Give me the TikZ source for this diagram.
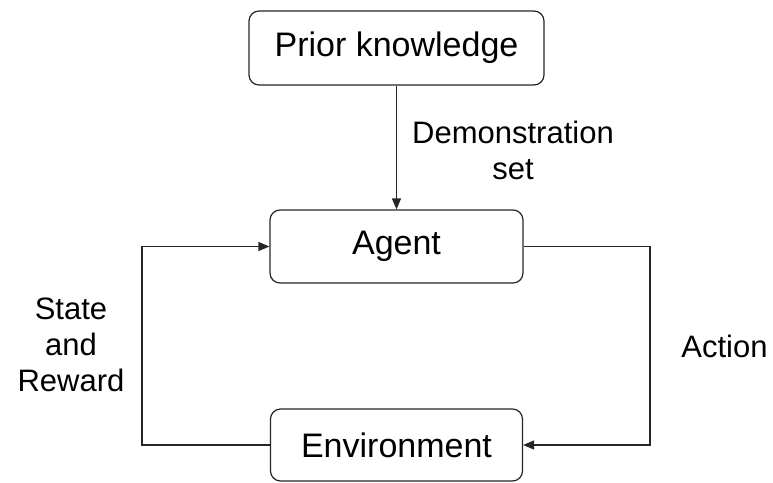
\documentclass[tikz,border=0pt]{standalone}
\usepackage{fontspec}
\setmainfont{Liberation Sans}
\usetikzlibrary{arrows.meta}
\begin{document}
\begin{tikzpicture}[x=1pt,y=-1pt,
  box/.style={draw=black!85, line width=1.2pt, rounded corners=10pt, inner sep=0pt,
    font=\fontsize{34}{40}\selectfont},
  lbl/.style={align=center, inner sep=0pt, font=\fontsize{31}{36}\selectfont},
  conn/.style={draw=black!85, line width=1.2pt},
  arr/.style={conn, -{Triangle[length=11pt,width=9pt]}}]
\useasboundingbox (0,0) rectangle (773,482);
\node[box, minimum width=295pt, minimum height=74pt] (prior) at (396.5,48) {Prior knowledge};
\node[box, minimum width=253pt, minimum height=73pt] (agent) at (396.5,246.5) {Agent};
\node[box, minimum width=252pt, minimum height=72pt] (env) at (396.5,445) {Environment};
\coordinate (r1) at (650,246.5);
\coordinate (r2) at (650,445);
\coordinate (l1) at (142,445);
\coordinate (l2) at (142,246.5);
\draw[arr] (prior.south) -- (agent.north);
\draw[arr] (agent.east) -- (r1) -- (r2) -- (env.east);
\draw[arr] (env.west) -- (l1) -- (l2) -- (agent.west);
\node[lbl] (demo) at (513,150) {Demonstration\\set};
\node[lbl] (sr) at (71,345) {State\\and\\Reward};
\node[lbl] (act) at (724.5,346) {Action};
\end{tikzpicture}
\end{document}
